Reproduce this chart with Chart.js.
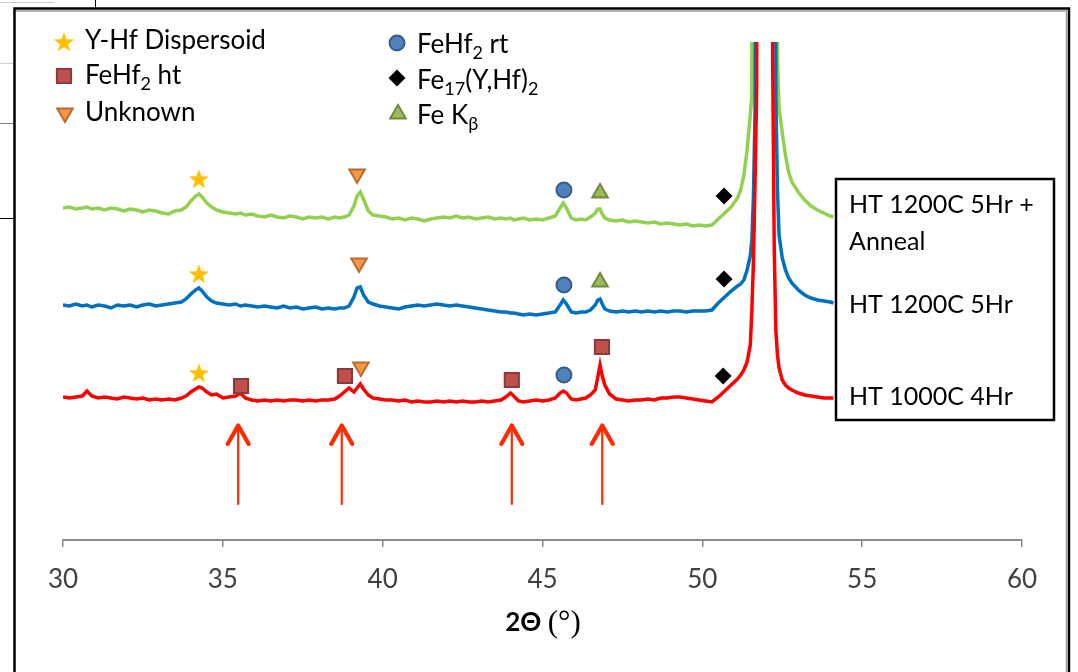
<!DOCTYPE html>
<html>
<head>
<meta charset="utf-8">
<script src="https://cdn.jsdelivr.net/npm/chart.js@4.4.1/dist/chart.umd.min.js"></script>
<style>
  html, body { margin: 0; padding: 0; background: #fff; }
  #wrap { width: 1078px; height: 672px; }
</style>
</head>
<body>
<div id="wrap"><canvas id="xrd" width="1078" height="672"></canvas></div>
<script>
// 2-theta positions (deg) shared by all three scans
const twoTheta = [
  30.0, 30.2, 30.4, 30.6, 30.75, 30.9, 31.1, 31.3, 31.5, 31.7, 31.9, 32.1, 32.3, 32.5, 32.7, 32.9, 33.1, 33.3, 33.5,
  33.7, 33.85, 34.0, 34.15, 34.25, 34.35, 34.5, 34.65, 34.8, 35.0, 35.2, 35.4, 35.55, 35.7, 35.9,
  36.1, 36.3, 36.5, 36.7, 36.9, 37.1, 37.3, 37.5, 37.7, 37.9, 38.1, 38.3, 38.5,
  38.65, 38.8, 38.95, 39.1, 39.2, 39.3, 39.4, 39.55, 39.7, 39.9,
  40.1, 40.3, 40.5, 40.7, 40.9, 41.1, 41.3, 41.5, 41.7, 41.9, 42.1, 42.3, 42.5, 42.7, 42.9, 43.1, 43.3, 43.5, 43.7,
  43.85, 44.0, 44.1, 44.25, 44.4, 44.6, 44.8, 45.0, 45.2,
  45.4, 45.55, 45.65, 45.75, 45.9, 46.05, 46.2, 46.35, 46.5, 46.65, 46.73, 46.8, 46.87, 46.95, 47.1, 47.3,
  47.5, 47.7, 47.9, 48.1, 48.3, 48.5, 48.7, 48.9, 49.1, 49.3, 49.5, 49.7, 49.9, 50.1, 50.3,
  50.5, 50.7, 50.9, 51.1, 51.2, 51.3, 51.4, 51.5, 51.55, 51.6, 51.65, 51.7, 51.75, 52.0, 52.15, 52.2, 52.25,
  52.3, 52.35, 52.4, 52.5, 52.6, 52.7, 52.8, 53.0, 53.2, 53.4, 53.6, 53.8, 54.0, 54.1
];

// intensities (offset, arbitrary units), main Fe peak runs off the top
const annealCounts = [
  332, 333, 331, 332, 333, 331, 332, 330, 332, 331, 329, 331, 330, 328, 330, 329, 327, 326, 329,
  330, 333, 339, 344, 346, 343, 337, 333, 330, 328, 327, 326, 327, 325, 326,
  324, 323, 325, 323, 322, 324, 323, 321, 323, 322, 323, 321, 323,
  322, 323, 325, 334, 344, 348, 341, 329, 325, 324,
  323, 321, 322, 320, 322, 321, 319, 321, 322, 323, 322, 324, 322, 323, 321, 322, 323, 321, 322,
  321, 322, 320, 321, 322, 320, 321, 320, 322,
  324, 332, 337, 332, 322, 320, 321, 320, 323, 327, 331, 331, 326, 322, 320, 319,
  320, 318, 319, 318, 317, 318, 316, 317, 316, 315, 316, 314, 315, 314, 315,
  321, 327, 333, 342, 350, 365, 390, 425, 445, 3000, 3500, 4000, 4500, 6000, 4500, 4000, 3500,
  3000, 480, 432, 407, 385, 368, 358, 348, 340, 334, 330, 327, 324, 323
];
const ht1200Counts = [
  235, 234, 236, 234, 235, 233, 235, 234, 232, 235, 234, 235, 233, 235, 236, 234, 235, 236, 237,
  238, 241, 246, 250, 252, 249, 243, 239, 237, 236, 235, 236, 234, 235, 234,
  233, 234, 233, 232, 234, 232, 233, 231, 232, 233, 231, 232, 231,
  232, 232, 234, 243, 252, 253, 245, 238, 236, 234,
  233, 232, 231, 233, 234, 235, 234, 235, 236, 235, 234, 235, 234, 233, 232, 231, 230, 229, 228,
  228, 227, 227, 226, 225, 226, 225, 226, 227,
  228, 235, 240, 236, 228, 227, 228, 228, 230, 235, 240, 241, 236, 231, 229, 228,
  229, 228, 229, 228, 229, 228, 229, 228, 229, 229, 228, 229, 229, 229, 230,
  237, 243, 249, 254, 256, 260, 270, 284, 300, 345, 430, 3500, 4000, 6000, 4500, 4000, 3000,
  445, 350, 305, 282, 270, 262, 257, 250, 245, 242, 240, 239, 238, 237
];
const ht1000Counts = [
  143, 142, 143, 144, 149, 144, 142, 143, 142, 141, 143, 142, 141, 142, 140, 141, 140, 141, 140,
  142, 144, 148, 151, 153, 152, 148, 145, 146, 142, 143, 144, 147, 142, 140,
  139, 140, 139, 140, 139, 140, 140, 139, 140, 139, 140, 140, 141,
  144, 148, 152, 148, 152, 156, 151, 145, 142, 141,
  140, 140, 139, 140, 138, 139, 138, 138, 139, 138, 139, 138, 139, 138, 138, 139, 138, 139, 140,
  143, 147, 144, 139, 138, 139, 140, 139, 140,
  142, 147, 149, 147, 141, 140, 141, 142, 145, 150, 163, 175, 164, 155, 146, 141,
  140, 139, 140, 140, 141, 140, 142, 142, 143, 143, 142, 141, 140, 139, 138,
  143, 149, 155, 161, 165, 170, 178, 195, 230, 280, 360, 450, 4000, 6000, 4000, 480, 290,
  210, 185, 172, 160, 155, 152, 150, 147, 145, 144, 143, 142, 142, 142
];

// phase markers
const dispersoidAngles = [34.25, 34.25, 34.25];
const dispersoidCounts = [361, 266, 167];
const htPhaseAngles = [35.57, 38.82, 44.04, 46.86];
const htPhaseCounts = [154, 164, 160, 193];
const unknownAngles = [39.20, 39.26, 39.32];
const unknownCounts = [366, 277, 173];
const rtPhaseAngles = [45.67, 45.67, 45.67];
const rtPhaseCounts = [350, 255, 165];
const fe17Angles = [50.68, 50.68, 50.65];
const fe17Counts = [344, 261, 164];
const kBetaAngles = [46.80, 46.80];
const kBetaCounts = [347, 258];

// red arrows under the FeHf2 ht peaks
const arrowAngles = [35.48, 38.72, 44.04, 46.87];
const arrowBase = 36;
const arrowTip = 116;

const sampleLines = ['HT 1200C 5Hr +', 'Anneal', 'HT 1200C 5Hr', 'HT 1000C 4Hr'];

const FONT = "Lato, 'Open Sans', 'DejaVu Sans', sans-serif";

function pts(xs, ys) {
  return xs.map((x, i) => ({ x: x, y: ys[i] }));
}

// filled star used as a point style
const starImg = document.createElement('canvas');
starImg.width = 22;
starImg.height = 22;
(function () {
  const c = starImg.getContext('2d');
  c.fillStyle = '#FFC000';
  c.beginPath();
  for (let i = 0; i < 10; i++) {
    const r = i % 2 === 0 ? 10.5 : 4.3;
    const a = -Math.PI / 2 + i * Math.PI / 5;
    const px = 11 + r * Math.cos(a), py = 11.8 + r * Math.sin(a);
    if (i === 0) c.moveTo(px, py); else c.lineTo(px, py);
  }
  c.closePath();
  c.fill();
})();

const markerStyles = {
  dispersoid: { pointStyle: starImg, radius: 11, bg: '#FFC000', border: '#FFC000', bw: 0, rot: 0 },
  ht: { pointStyle: 'rect', radius: 10, bg: '#C0504D', border: '#8C3A37', bw: 2, rot: 0 },
  unknown: { pointStyle: 'triangle', radius: 9, bg: '#F79646', border: '#B66D31', bw: 2, rot: 180 },
  rt: { pointStyle: 'circle', radius: 7.5, bg: '#4F81BD', border: '#385D8A', bw: 2, rot: 0 },
  fe17: { pointStyle: 'rectRot', radius: 8.5, bg: '#000000', border: '#000000', bw: 0, rot: 0 },
  kb: { pointStyle: 'triangle', radius: 9, bg: '#9BBB59', border: '#71893F', bw: 2, rot: 0 }
};

function markerSet(label, xs, ys, m) {
  return {
    label: label,
    data: pts(xs, ys),
    showLine: false,
    pointStyle: m.pointStyle,
    pointRadius: m.radius,
    pointHoverRadius: m.radius,
    pointRotation: m.rot,
    pointBackgroundColor: m.bg,
    pointBorderColor: m.border,
    pointBorderWidth: m.bw,
    borderColor: m.border,
    backgroundColor: m.bg,
    order: 0
  };
}

function scanSet(label, ys, color, order) {
  return {
    label: label,
    data: pts(twoTheta, ys),
    borderColor: color,
    backgroundColor: color,
    borderWidth: 3.5,
    pointRadius: 0,
    tension: 0,
    order: order
  };
}

function drawRich(ctx, x, baseline, parts, size) {
  parts.forEach(function (p) {
    const sub = p[1] === true;
    ctx.font = (sub ? Math.round(size * 0.68) : size) + 'px ' + FONT;
    ctx.fillText(p[0], x, baseline + (sub ? 6 : 0));
    x += ctx.measureText(p[0]).width;
  });
}

const legendItems = [
  { m: markerStyles.dispersoid, mx: 64, my: 42, tx: 85, ty: 49, parts: [['Y-Hf Dispersoid']] },
  { m: markerStyles.ht, mx: 64, my: 76, tx: 85, ty: 84, parts: [['FeHf'], ['2', true], [' ht']] },
  { m: markerStyles.unknown, mx: 65, my: 113, tx: 85, ty: 121, parts: [['Unknown']] },
  { m: markerStyles.rt, mx: 397, my: 43, tx: 417, ty: 53, parts: [['FeHf'], ['2', true], [' rt']] },
  { m: markerStyles.fe17, mx: 397, my: 78, tx: 417, ty: 89, parts: [['Fe'], ['17', true], ['(Y,Hf)'], ['2', true]] },
  { m: markerStyles.kb, mx: 398, my: 114, tx: 417, ty: 124, parts: [['Fe K'], ['\u03B2', true]] }
];

const backdrop = {
  id: 'backdrop',
  beforeDraw(chart) {
    const ctx = chart.ctx;
    ctx.save();
    ctx.fillStyle = '#ffffff';
    ctx.fillRect(0, 0, chart.width, chart.height);
    // bits of the spreadsheet behind the chart
    ctx.lineWidth = 1;
    ctx.strokeStyle = '#c8c8c8';
    ctx.beginPath(); ctx.moveTo(0, 2.5); ctx.lineTo(54, 2.5); ctx.stroke();
    ctx.strokeStyle = '#d0d0d0';
    ctx.beginPath(); ctx.moveTo(0, 63.5); ctx.lineTo(14, 63.5); ctx.stroke();
    ctx.strokeStyle = '#808080';
    ctx.beginPath(); ctx.moveTo(0, 123.5); ctx.lineTo(14, 123.5); ctx.stroke();
    ctx.strokeStyle = '#000000';
    ctx.beginPath(); ctx.moveTo(0, 218.5); ctx.lineTo(14, 218.5); ctx.stroke();
    ctx.beginPath(); ctx.moveTo(95.5, 0); ctx.lineTo(95.5, 8); ctx.stroke();
    // chart frame
    ctx.strokeStyle = '#9a9a9a';
    ctx.lineWidth = 1.5;
    ctx.beginPath(); ctx.moveTo(16, 11); ctx.lineTo(1066.5, 11); ctx.lineTo(1066.5, 672); ctx.stroke();
    ctx.strokeStyle = '#000000';
    ctx.lineWidth = 2.5;
    ctx.beginPath();
    ctx.moveTo(14.5, 672); ctx.lineTo(14.5, 8.5); ctx.lineTo(1069, 8.5); ctx.lineTo(1069, 672);
    ctx.stroke();
    ctx.restore();
  }
};

const overlay = {
  id: 'overlay',
  afterDatasetsDraw(chart) {
    const ctx = chart.ctx, xs = chart.scales.x, ys = chart.scales.y;
    ctx.save();
    ctx.strokeStyle = '#FF2A00';
    ctx.lineCap = 'round';
    ctx.lineJoin = 'round';
    arrowAngles.forEach(function (a) {
      const px = xs.getPixelForValue(a);
      const pb = ys.getPixelForValue(arrowBase);
      const pt = ys.getPixelForValue(arrowTip);
      ctx.lineWidth = 2.2;
      ctx.beginPath(); ctx.moveTo(px, pb); ctx.lineTo(px, pt + 3); ctx.stroke();
      ctx.lineWidth = 4.2;
      ctx.beginPath(); ctx.moveTo(px - 10.5, pt + 20); ctx.lineTo(px, pt + 1.5); ctx.lineTo(px + 10.5, pt + 20); ctx.stroke();
    });
    ctx.restore();
  },
  afterDraw(chart) {
    const ctx = chart.ctx;
    ctx.save();
    ctx.textBaseline = 'alphabetic';
    ctx.textAlign = 'left';
    // legend
    legendItems.forEach(function (it) {
      ctx.fillStyle = it.m.bg;
      ctx.strokeStyle = it.m.border;
      ctx.lineWidth = it.m.bw;
      Chart.helpers.drawPoint(ctx, {
        pointStyle: it.m.pointStyle, radius: it.m.radius, rotation: it.m.rot, borderWidth: it.m.bw
      }, it.mx, it.my);
      ctx.fillStyle = '#000000';
      drawRich(ctx, it.tx, it.ty, it.parts, 26);
    });
    // sample label box
    ctx.fillStyle = '#ffffff';
    ctx.fillRect(836, 179, 218, 241);
    ctx.strokeStyle = '#000000';
    ctx.lineWidth = 2.5;
    ctx.strokeRect(836, 179, 218, 241);
    ctx.fillStyle = '#000000';
    ctx.font = '25px ' + FONT;
    const base = [213, 250, 313, 405];
    sampleLines.forEach(function (t, i) { ctx.fillText(t, 849, base[i]); });
    // axis title
    const serif = '31px "Liberation Serif", "DejaVu Serif", serif';
    ctx.font = 'bold 26px ' + FONT;
    const a = '2\u0398 ';
    const wa = ctx.measureText(a).width;
    ctx.font = serif;
    const b = '(\u00B0)';
    const wb = ctx.measureText(b).width;
    const x0 = 543 - (wa + wb) / 2;
    ctx.font = 'bold 26px ' + FONT;
    ctx.fillText(a, x0, 631);
    ctx.font = serif;
    ctx.fillText(b, x0 + wa, 632);
    ctx.restore();
  }
};

new Chart(document.getElementById('xrd'), {
  type: 'line',
  data: {
    datasets: [
      markerSet('Y-Hf Dispersoid', dispersoidAngles, dispersoidCounts, markerStyles.dispersoid),
      markerSet('FeHf2 ht', htPhaseAngles, htPhaseCounts, markerStyles.ht),
      markerSet('Unknown', unknownAngles, unknownCounts, markerStyles.unknown),
      markerSet('FeHf2 rt', rtPhaseAngles, rtPhaseCounts, markerStyles.rt),
      markerSet('Fe17(Y,Hf)2', fe17Angles, fe17Counts, markerStyles.fe17),
      markerSet('Fe K\u03B2', kBetaAngles, kBetaCounts, markerStyles.kb),
      scanSet('HT 1000C 4Hr', ht1000Counts, '#FF0000', 1),
      scanSet('HT 1200C 5Hr', ht1200Counts, '#0070C0', 2),
      scanSet('HT 1200C 5Hr + Anneal', annealCounts, '#92D050', 3)
    ]
  },
  options: {
    responsive: false,
    animation: false,
    events: [],
    layout: { padding: { top: 42, left: 0, right: 0, bottom: 0 } },
    plugins: {
      legend: { display: false },
      tooltip: { enabled: false }
    },
    scales: {
      x: {
        type: 'linear',
        min: 30,
        max: 60,
        ticks: {
          stepSize: 5,
          color: '#404040',
          font: { family: FONT, size: 26 },
          padding: 17,
          maxRotation: 0
        },
        grid: { drawOnChartArea: false, tickLength: 7, color: '#8c8c8c', lineWidth: 1.5 },
        border: { color: '#8c8c8c', width: 2 },
        afterFit: function (s) { s.height = 132; }
      },
      y: {
        min: 0,
        max: 498,
        ticks: { display: false },
        grid: { display: false },
        border: { display: false },
        afterFit: function (s) { s.width = 63; }
      },
      y2: {
        axis: 'y',
        position: 'right',
        ticks: { display: false },
        grid: { display: false },
        border: { display: false },
        afterFit: function (s) { s.width = 56; }
      }
    }
  },
  plugins: [backdrop, overlay]
});
</script>
</body>
</html>
